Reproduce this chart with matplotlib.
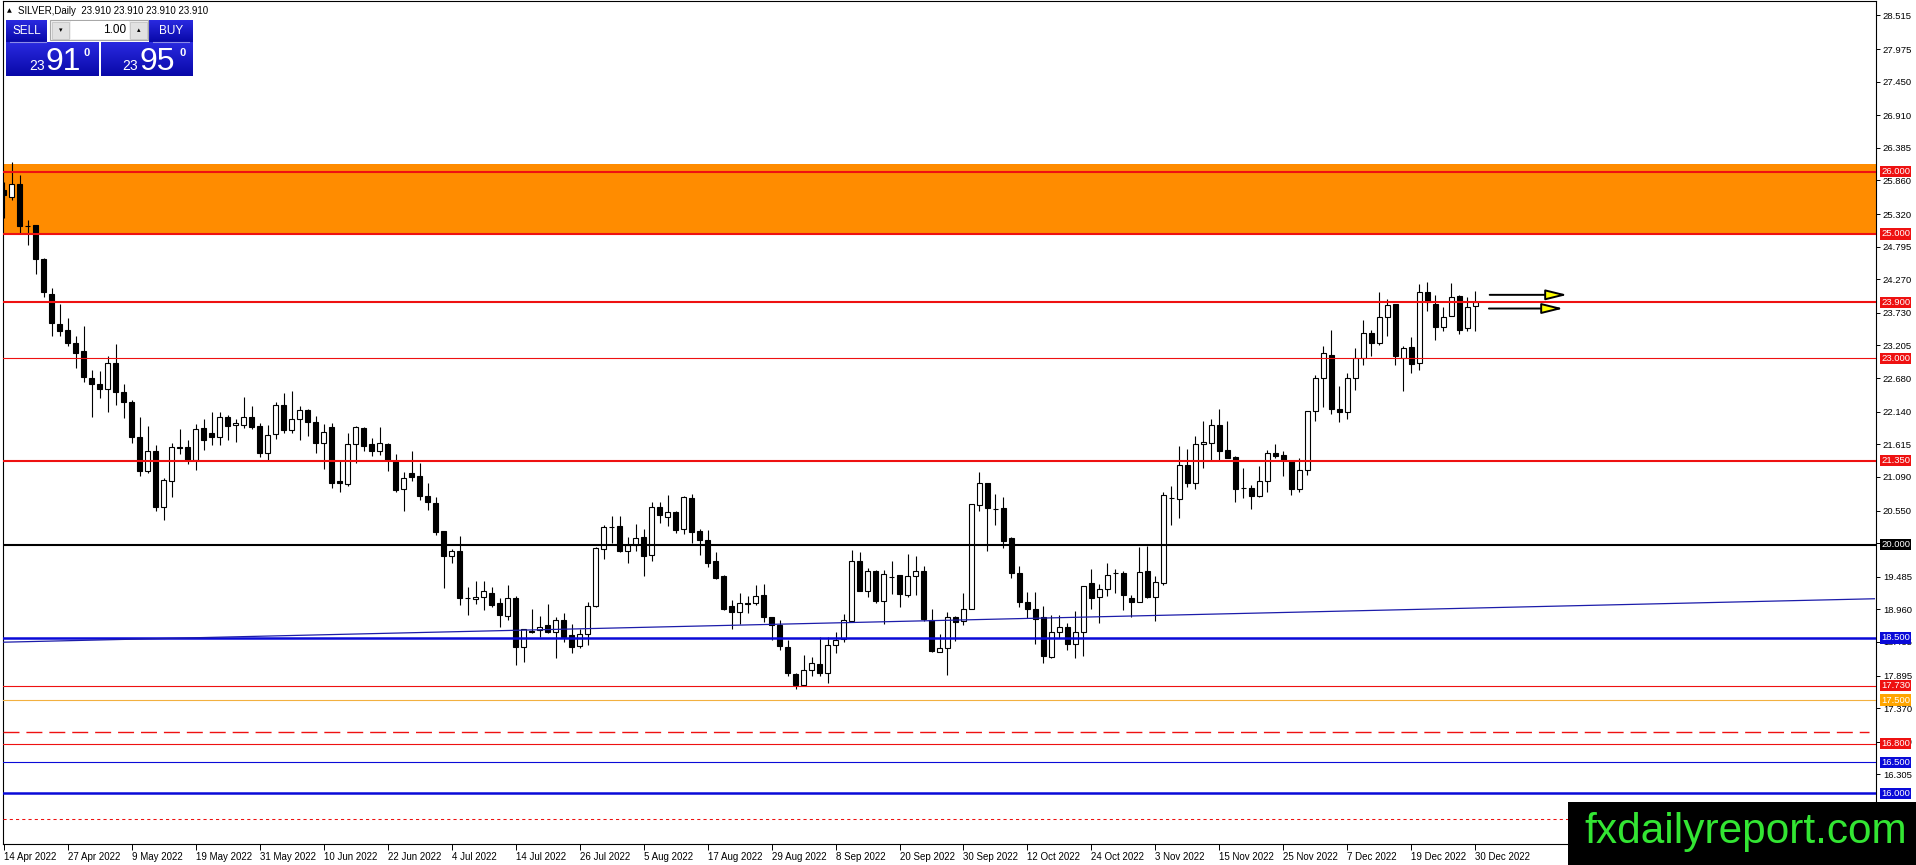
import numpy as np
import matplotlib
matplotlib.use("Agg")
import matplotlib.pyplot as plt
import matplotlib.transforms as mtransforms
from matplotlib.patches import Rectangle
from matplotlib.colors import LinearSegmentedColormap

plt.rcParams['font.family'] = ['Liberation Sans', 'DejaVu Sans']

# daily bars, 14 Apr 2022 .. 30 Dec 2022 (one label every 8 bars)
date_labels = ['14 Apr 2022', '27 Apr 2022', '9 May 2022', '19 May 2022', '31 May 2022',
               '10 Jun 2022', '22 Jun 2022', '4 Jul 2022', '14 Jul 2022', '26 Jul 2022',
               '5 Aug 2022', '17 Aug 2022', '29 Aug 2022', '8 Sep 2022', '20 Sep 2022',
               '30 Sep 2022', '12 Oct 2022', '24 Oct 2022', '3 Nov 2022', '15 Nov 2022',
               '25 Nov 2022', '7 Dec 2022', '19 Dec 2022', '30 Dec 2022']

opens = [25.70, 25.60, 25.80, 25.13, 25.14, 24.60, 24.04, 23.55, 23.46, 23.25,
         23.11, 22.69, 22.58, 22.50, 22.92, 22.45, 22.29, 21.73, 21.19, 21.50,
         20.61, 21.03, 21.57, 21.57, 21.36, 21.87, 21.79, 21.73, 22.05, 21.92,
         21.93, 22.05, 21.91, 21.48, 21.78, 22.25, 21.85, 22.02, 22.17, 21.98,
         21.63, 21.89, 21.02, 20.98, 21.62, 21.87, 21.62, 21.51, 21.62, 21.34,
         20.89, 21.15, 21.10, 20.78, 20.67, 20.22, 19.82, 19.90, 19.15, 19.13,
         19.16, 19.23, 19.06, 18.86, 19.15, 18.35, 18.61, 18.63, 18.70, 18.60,
         18.79, 18.55, 18.37, 18.56, 19.01, 19.93, 20.29, 20.30, 19.90, 20.00,
         20.12, 19.84, 20.60, 20.45, 20.52, 20.25, 20.75, 20.22, 20.08, 19.73,
         19.49, 19.01, 18.92, 19.06, 19.06, 19.19, 18.83, 18.71, 18.35, 17.92,
         17.74, 17.98, 18.08, 17.93, 18.38, 18.48, 18.78, 19.74, 19.26, 19.58,
         19.10, 19.48, 19.51, 19.19, 19.49, 19.57, 18.79, 18.28, 18.33, 18.84,
         18.78, 18.96, 20.64, 21.00, 20.58, 20.59, 20.10, 19.54, 19.08, 18.96,
         18.83, 18.20, 18.60, 18.67, 18.40, 18.60, 19.38, 19.16, 19.29, 19.54,
         19.54, 19.15, 19.08, 19.58, 19.16, 19.39, 20.75, 20.73, 21.29, 20.99,
         21.62, 21.63, 21.92, 21.52, 21.41, 20.91, 20.91, 20.78, 21.03, 21.47,
         21.44, 21.35, 20.89, 21.20, 22.15, 22.69, 23.05, 22.19, 22.13, 22.68,
         23.00, 23.40, 23.25, 23.67, 23.88, 23.01, 23.18, 22.93, 24.07, 23.87,
         23.50, 23.68, 24.00, 23.48, 23.84]
highs = [25.84, 26.16, 25.95, 25.23, 25.14, 24.62, 24.13, 23.88, 23.64, 23.36,
         23.52, 22.81, 22.80, 23.04, 23.23, 22.59, 22.32, 22.05, 21.91, 21.60,
         21.07, 21.63, 21.86, 21.69, 21.94, 22.02, 22.13, 22.14, 22.09, 22.02,
         22.38, 22.23, 21.96, 21.93, 22.29, 22.44, 22.47, 22.23, 22.19, 22.07,
         21.94, 21.96, 21.34, 21.79, 21.91, 21.90, 21.71, 21.90, 21.64, 21.46,
         21.17, 21.50, 21.31, 20.99, 20.76, 20.22, 19.93, 20.14, 19.32, 19.42,
         19.41, 19.32, 19.14, 19.35, 19.17, 18.65, 18.96, 18.85, 19.04, 18.83,
         18.90, 18.73, 18.65, 19.07, 19.97, 20.32, 20.46, 20.46, 20.12, 20.33,
         20.26, 20.68, 20.68, 20.80, 20.55, 20.78, 20.82, 20.25, 20.23, 19.89,
         19.51, 19.11, 19.23, 19.18, 19.35, 19.37, 18.83, 18.79, 18.47, 17.93,
         18.23, 18.20, 18.52, 18.52, 18.60, 18.89, 19.92, 19.89, 19.63, 19.60,
         19.59, 19.74, 19.51, 19.85, 19.81, 19.65, 18.96, 18.57, 18.92, 18.86,
         19.23, 20.65, 21.17, 21.00, 20.81, 20.76, 20.13, 19.65, 19.24, 19.24,
         19.02, 18.87, 18.87, 18.74, 18.93, 19.33, 19.61, 19.36, 19.70, 19.61,
         19.57, 19.19, 19.96, 19.98, 19.49, 20.84, 20.95, 21.58, 21.54, 21.75,
         21.99, 22.03, 22.18, 21.99, 21.43, 21.24, 20.96, 21.27, 21.52, 21.62,
         21.50, 21.36, 21.40, 22.15, 22.73, 23.19, 23.45, 22.55, 22.76, 23.16,
         23.62, 23.45, 24.07, 23.96, 23.88, 23.19, 23.34, 24.19, 24.22, 24.02,
         23.83, 24.21, 24.02, 23.99, 24.08]
lows = [25.25, 25.54, 25.02, 24.82, 24.36, 23.99, 23.35, 23.35, 23.19, 22.84,
        22.62, 22.06, 22.36, 22.14, 22.25, 22.04, 21.63, 21.11, 21.16, 20.55,
        20.39, 20.77, 21.46, 21.30, 21.20, 21.53, 21.60, 21.60, 21.69, 21.66,
        21.87, 21.86, 21.41, 21.36, 21.70, 21.79, 21.80, 21.68, 21.75, 21.48,
        21.21, 20.91, 20.84, 20.94, 21.31, 21.51, 21.42, 21.44, 21.18, 20.85,
        20.55, 21.03, 20.72, 20.56, 20.15, 19.31, 19.70, 19.03, 18.87, 19.05,
        18.95, 19.00, 18.68, 18.79, 18.06, 18.11, 18.58, 18.52, 18.58, 18.18,
        18.44, 18.25, 18.33, 18.38, 18.99, 19.77, 20.03, 19.89, 19.71, 19.90,
        19.49, 19.74, 20.35, 20.30, 20.18, 20.17, 20.03, 19.83, 19.64, 19.44,
        18.95, 18.65, 18.73, 18.90, 19.03, 18.76, 18.47, 18.31, 17.88, 17.68,
        17.72, 17.88, 17.88, 17.77, 18.25, 18.44, 18.78, 19.26, 19.16, 19.06,
        18.73, 19.20, 19.00, 19.16, 19.19, 18.77, 18.27, 18.27, 17.90, 18.45,
        18.71, 18.96, 20.54, 19.90, 20.31, 19.94, 19.46, 19.00, 18.82, 18.41,
        18.09, 18.17, 18.50, 18.31, 18.17, 18.21, 18.96, 18.74, 19.17, 19.23,
        18.95, 18.84, 19.08, 19.14, 18.77, 19.35, 20.32, 20.43, 20.93, 20.90,
        21.23, 21.35, 21.36, 21.39, 20.69, 20.75, 20.57, 20.76, 20.85, 21.40,
        21.11, 20.80, 20.84, 21.12, 21.99, 22.22, 22.11, 21.98, 22.02, 22.49,
        22.89, 23.04, 23.21, 23.36, 22.89, 22.48, 22.77, 22.81, 23.76, 23.29,
        23.44, 23.68, 23.39, 23.44, 23.44]
closes = [25.62, 25.80, 25.12, 25.12, 24.59, 24.07, 23.56, 23.44, 23.24, 23.08,
          22.70, 22.58, 22.50, 22.92, 22.45, 22.29, 21.73, 21.19, 21.50, 20.61,
          21.04, 21.57, 21.56, 21.36, 21.86, 21.69, 21.73, 22.05, 21.91, 21.95,
          22.05, 21.90, 21.48, 21.77, 22.25, 21.85, 22.02, 22.17, 21.98, 21.63,
          21.82, 21.00, 20.99, 21.62, 21.89, 21.59, 21.51, 21.64, 21.36, 20.88,
          21.08, 21.09, 20.79, 20.68, 20.21, 19.81, 19.90, 19.15, 19.15, 19.16,
          19.26, 19.03, 18.87, 19.14, 18.35, 18.64, 18.60, 18.68, 18.60, 18.79,
          18.51, 18.36, 18.56, 19.01, 19.94, 20.28, 20.29, 19.90, 19.99, 20.10,
          19.82, 20.60, 20.47, 20.52, 20.24, 20.77, 20.21, 20.08, 19.71, 19.47,
          18.97, 18.92, 19.06, 19.05, 19.18, 18.83, 18.71, 18.37, 17.93, 17.74,
          17.98, 18.09, 17.94, 18.39, 18.47, 18.79, 19.74, 19.26, 19.58, 19.09,
          19.53, 19.48, 19.21, 19.50, 19.58, 18.80, 18.29, 18.33, 18.83, 18.75,
          18.96, 20.65, 21.00, 20.59, 20.57, 20.06, 19.54, 19.08, 18.96, 18.81,
          18.21, 18.60, 18.67, 18.40, 18.60, 19.33, 19.15, 19.28, 19.52, 19.54,
          19.19, 19.08, 19.56, 19.16, 19.40, 20.80, 20.75, 21.29, 20.99, 21.62,
          21.65, 21.92, 21.51, 21.40, 20.89, 20.91, 20.79, 21.02, 21.47, 21.43,
          21.36, 20.89, 21.20, 22.15, 22.69, 23.09, 22.18, 22.13, 22.68, 23.00,
          23.40, 23.24, 23.66, 23.86, 23.03, 23.16, 22.91, 24.07, 23.91, 23.50,
          23.66, 23.98, 23.46, 23.82, 23.91]

# horizontal levels drawn on the chart
level_prices = [26.0, 25.0, 23.9, 23.0, 21.35, 20.0, 18.5, 17.73, 17.5, 16.8, 16.5, 16.0]
level_colors = ['#ee1111', '#ee1111', '#ee1111', '#ee1111', '#ee1111', 'black',
                '#0a0ad8', '#ee1111', '#f2b040', '#ee1111', '#0a0ad8', '#0a0ad8']
label_colors = ['#ee1111', '#ee1111', '#ee1111', '#ee1111', '#ee1111', 'black',
                '#0a0ad8', '#ee1111', '#ffa500', '#ee1111', '#0a0ad8', '#0a0ad8']
level_widths = [1.5, 1.5, 1.5, 0.8, 1.5, 1.5, 1.8, 0.8, 0.8, 0.8, 0.8, 1.8]
zone_low, zone_high = 25.0, 26.125
dashed_level, dashed_end = 16.99, 233.2
dotted_level = 15.59
trend_x = [-0.4, 233.9]
trend_y = [18.43, 19.13]
arrow_levels = [24.02, 23.80]
arrow_start = [185.8, 185.7]
arrow_end = [195.5, 195.0]
price_ticks = [28.515, 27.975, 27.450, 26.910, 26.385, 25.860, 25.320, 24.795, 24.270,
               23.730, 23.205, 22.680, 22.140, 21.615, 21.090, 20.550, 20.025, 19.485,
               18.960, 18.435, 17.895, 17.370, 16.830, 16.305, 15.780]

W, H = 1916, 865
fig = plt.figure(figsize=(W / 100, H / 100), dpi=100)
ax = fig.add_axes([3 / W, 21 / H, 1873 / W, 843 / H])
ax.set_xlim(-0.1, 234.1)
ax.set_ylim(15.184, 28.748)

o = np.array(opens)
c = np.array(closes)
idx = np.arange(len(o))
up = c >= o

ax.axhspan(zone_low, zone_high, color='#ff8c00', lw=0, zorder=1)
ax.vlines(idx, lows, highs, color='black', lw=0.8, zorder=3)
ax.bar(idx, np.abs(c - o), bottom=np.minimum(o, c), width=0.6,
       color=np.where(up, 'white', 'black'), edgecolor='black', linewidth=0.8, zorder=4)

for p, col, lw in zip(level_prices, level_colors, level_widths):
    ax.axhline(p, color=col, lw=lw, zorder=5)
ax.hlines(dashed_level, -0.1, dashed_end, colors='#ee1111', lw=1.0,
          linestyles=(0, (11.5, 5)), zorder=5)
ax.axhline(dotted_level, color='#ee1111', lw=0.75, ls=(0, (3, 3)), zorder=5)
ax.plot(trend_x, trend_y, color='#1c1caa', lw=0.9, zorder=5)

for lv, x0, x1 in zip(arrow_levels, arrow_start, arrow_end):
    ax.annotate('', xy=(x1, lv), xytext=(x0, lv),
                arrowprops=dict(arrowstyle='-|>,head_length=1.3,head_width=0.32',
                                fc='yellow', ec='black', lw=1.4, shrinkA=0, shrinkB=0),
                zorder=6)

# axes
ax.yaxis.tick_right()
ax.set_yticks(price_ticks)
ax.set_yticklabels([f'{v:.3f}' for v in price_ticks])
ax.tick_params(axis='y', length=3, pad=2, labelsize=6.8, width=0.7)
ax.set_xticks(range(0, len(o), 8))
ax.set_xticklabels(date_labels)
ax.tick_params(axis='x', length=4, pad=2, labelsize=7, width=0.7)
for lab in ax.get_xticklabels():
    lab.set_horizontalalignment('left')
for sp in ax.spines.values():
    sp.set_linewidth(0.8)

trans = mtransforms.blended_transform_factory(ax.transAxes, ax.transData)
for p, col in zip(level_prices, label_colors):
    ax.text(1.0027, p, f'{p:.3f}', transform=trans, ha='left', va='center',
            fontsize=6.8, color='white', clip_on=False, zorder=20,
            bbox=dict(boxstyle='square,pad=0.12', fc=col, ec='none'))

# overlay: header, trade panel, watermark
ov = fig.add_axes([0, 0, 1, 1], zorder=10)
ov.patch.set_alpha(0)
ov.axis('off')

ov.text(7, 11, '\u25B2', fontsize=4.5, va='center', ha='left', family='DejaVu Sans')
ov.text(18, 11, 'SILVER,Daily  23.910 23.910 23.910 23.910', fontsize=7, va='center', ha='left')

blue = LinearSegmentedColormap.from_list('panel', ['#2a2ae0', '#0808a8'])
grad = np.linspace(0, 1, 64).reshape(-1, 1)
for (x0, x1, y0, y1) in [(6, 47, 20.7, 42), (6, 99, 42, 76), (149, 193, 20.7, 42), (101, 193, 42, 76)]:
    ov.imshow(grad, extent=(x0, x1, y1, y0), cmap=blue, aspect='auto', interpolation='bilinear')
ov.plot([10, 46], [42, 42], color='#8c8ce8', lw=0.8)
ov.plot([153, 189], [42, 42], color='#8c8ce8', lw=0.8)

ov.add_patch(Rectangle((50, 20), 98, 20, fc='#f0f0f0', ec='#a8a8a8', lw=0.8))
ov.add_patch(Rectangle((52.5, 21.5), 17, 17, fc='#e1e1e1', ec='#c4c4c4', lw=0.6))
ov.add_patch(Rectangle((71, 21), 58, 18, fc='white', ec='none'))
ov.add_patch(Rectangle((130, 21.5), 17, 17, fc='#e1e1e1', ec='#c4c4c4', lw=0.6))
ov.text(61, 30, '\u25BE', fontsize=5, ha='center', va='center', family='DejaVu Sans')
ov.text(138.5, 30, '\u25B4', fontsize=5, ha='center', va='center', family='DejaVu Sans')
ov.text(126, 30, '1.00', fontsize=8.5, ha='right', va='center')

ov.text(26.5, 31.5, 'SELL', fontsize=8.5, color='white', ha='center', va='center')
ov.text(171, 31.5, 'BUY', fontsize=8.5, color='white', ha='center', va='center')
ov.text(29, 70, '23', fontsize=10, color='white', ha='left', va='baseline')
ov.text(46, 70, '91', fontsize=23, color='white', ha='left', va='baseline')
ov.text(84, 56.5, '0', fontsize=8, color='white', ha='left', va='baseline', weight='bold')
ov.text(122, 70, '23', fontsize=10, color='white', ha='left', va='baseline')
ov.text(140, 70, '95', fontsize=23, color='white', ha='left', va='baseline')
ov.text(180, 56.5, '0', fontsize=8, color='white', ha='left', va='baseline', weight='bold')

ov.add_patch(Rectangle((1568, 802), 348, 63, fc='black', ec='none'))
ov.text(1584, 843, 'fxdailyreport.com', fontsize=30.5, color='#33e633', ha='left', va='baseline')

ov.set_xlim(0, W)
ov.set_ylim(H, 0)

fig.savefig('out.png', dpi=100, facecolor='white')
